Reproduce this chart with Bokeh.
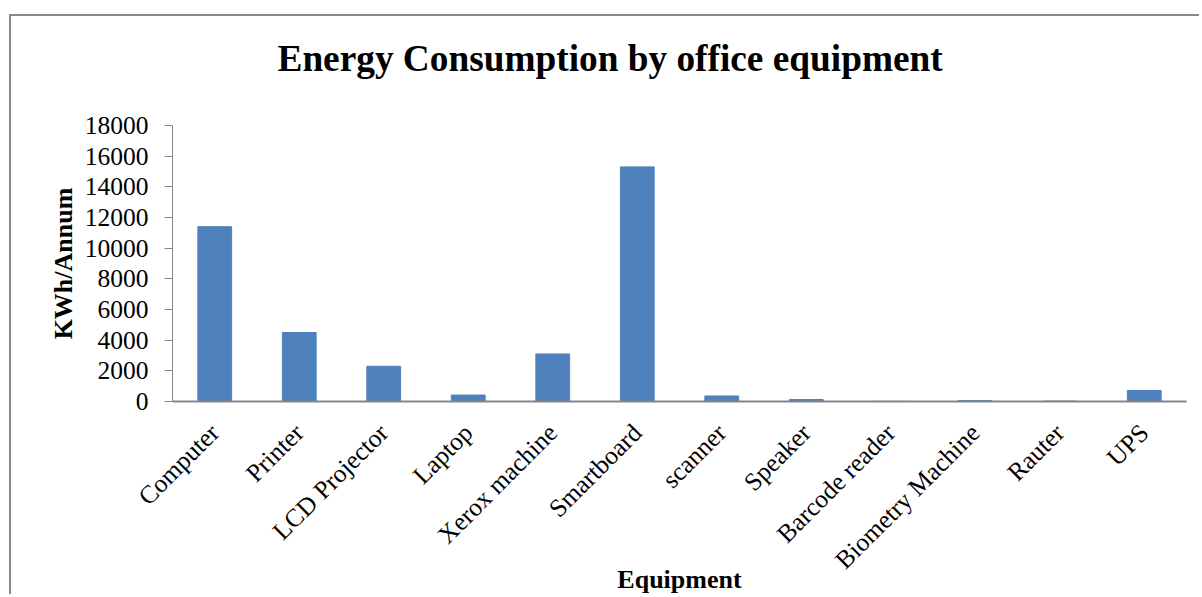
import math
from bokeh.plotting import figure
from bokeh.models import SingleIntervalTicker, Range1d, Title
from bokeh.embed import file_html
from bokeh.resources import INLINE

categories = ["Computer", "Printer", "LCD Projector", "Laptop", "Xerox machine",
              "Smartboard", "scanner", "Speaker", "Barcode reader",
              "Biometry Machine", "Rauter", "UPS"]
values = [11400, 4500, 2300, 420, 3100, 15300, 360, 130, 10, 60, 25, 720]
title_text = "Energy Consumption by office equipment"
x_title = "Equipment"
y_title = "KWh/Annum"

SERIF = "Liberation Serif"
AXIS = "#868686"
BORDER = "2px solid #888888"

W, H = 1190, 580
p = figure(x_range=categories, y_range=Range1d(0, 18000), width=W, height=H,
           output_backend="svg", toolbar_location=None,
           min_border_left=161, min_border_right=15, min_border_top=109,
           min_border_bottom=195, title=title_text)
p.margin = (14, 0, 0, 9)
p.styles = {"border-top": BORDER, "border-left": BORDER}
p.outline_line_color = None
p.grid.grid_line_color = None
p.background_fill_color = "white"
p.border_fill_color = "white"

p.title.text_font = SERIF
p.title.text_font_size = "37.3px"
p.title.text_font_style = "bold"
p.title.text_color = "black"
p.title.align = "left"
p.title.offset = 105
p.title.standoff = 0
# spacer between the title and the plot area
p.add_layout(Title(text=" ", text_font_size="1px", standoff=44), "above")

p.vbar(x=categories, top=values, width=0.4, color="#4F81BD")

p.yaxis.ticker = SingleIntervalTicker(interval=2000)
p.yaxis.axis_line_color = AXIS
p.yaxis.major_tick_line_color = AXIS
p.yaxis.major_tick_out = 8
p.yaxis.major_tick_in = 0
p.yaxis.minor_tick_line_color = None
p.yaxis.major_label_text_font = SERIF
p.yaxis.major_label_text_font_size = "25.5px"
p.yaxis.major_label_text_color = "black"
p.yaxis.major_label_standoff = 16
p.yaxis.axis_label = y_title
p.yaxis.axis_label_text_font = SERIF
p.yaxis.axis_label_text_font_size = "26px"
p.yaxis.axis_label_text_font_style = "bold"
p.yaxis.axis_label_text_color = "black"
p.yaxis.axis_label_standoff = 4

p.xaxis.axis_line_color = AXIS
p.xaxis.axis_line_width = 2
p.xaxis.major_tick_line_color = None
p.xaxis.minor_tick_line_color = None
p.xaxis.major_label_orientation = math.pi / 4
p.xaxis.major_label_text_font = SERIF
p.xaxis.major_label_text_font_size = "25.5px"
p.xaxis.major_label_text_color = "black"
p.xaxis.major_label_standoff = 21
p.xaxis.axis_label = x_title
p.xaxis.axis_label_text_font = SERIF
p.xaxis.axis_label_text_font_size = "26px"
p.xaxis.axis_label_text_font_style = "bold"
p.xaxis.axis_label_text_color = "black"
p.xaxis.axis_label_standoff = -23

open("out.html", "w").write(file_html(p, INLINE))
